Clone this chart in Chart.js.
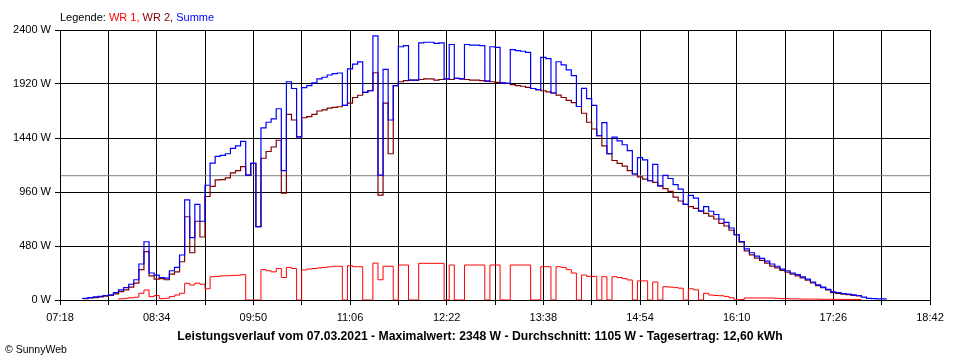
<!DOCTYPE html>
<html>
<head>
<meta charset="utf-8">
<script src="https://cdn.jsdelivr.net/npm/chart.js@4"></script>
<style>
  body { margin: 0; background: #fff; }
  #wrap { position: relative; width: 960px; height: 360px; font-family: "Liberation Sans", Arial, sans-serif; }
  #chart { position: absolute; left: 0; top: 0; }
  .legend { position: absolute; left: 60px; top: 11px; font-size: 11px; color: #000; white-space: nowrap; }
  .title { position: absolute; left: 0; width: 960px; top: 329px; text-align: center; font-size: 12.2px; font-weight: bold; color: #000; white-space: nowrap; }
  .copy { position: absolute; left: 5px; top: 343px; font-size: 10.5px; color: #000; }
</style>
</head>
<body>
<div id="wrap">
  <canvas id="chart" width="960" height="360"></canvas>
  <div class="legend">Legende: <span style="color:#ff0000">WR 1,</span> <span style="color:#800000">WR 2,</span> <span style="color:#0000ff">Summe</span></div>
  <div class="title">Leistungsverlauf vom 07.03.2021 - Maximalwert: 2348 W - Durchschnitt: 1105 W - Tagesertrag: 12,60 kWh</div>
  <div class="copy">&copy; SunnyWeb</div>
</div>
<script>
'use strict';

// sample times (one line per hour)
let times = [
  '07:32', '07:36', '07:40', '07:44', '07:48', '07:52', '07:56',
  '08:00', '08:04', '08:08', '08:12', '08:16', '08:20', '08:24', '08:28', '08:32', '08:36', '08:40', '08:44', '08:48', '08:52', '08:56',
  '09:00', '09:04', '09:08', '09:12', '09:16', '09:20', '09:24', '09:28', '09:32', '09:36', '09:40', '09:44', '09:48', '09:52', '09:56',
  '10:00', '10:04', '10:08', '10:12', '10:16', '10:20', '10:24', '10:28', '10:32', '10:36', '10:40', '10:44', '10:48', '10:52', '10:56',
  '11:00', '11:04', '11:08', '11:12', '11:16', '11:20', '11:24', '11:28', '11:32', '11:36', '11:40', '11:44', '11:48', '11:52', '11:56',
  '12:00', '12:04', '12:08', '12:12', '12:16', '12:20', '12:24', '12:28', '12:32', '12:36', '12:40', '12:44', '12:48', '12:52', '12:56',
  '13:00', '13:04', '13:08', '13:12', '13:16', '13:20', '13:24', '13:28', '13:32', '13:36', '13:40', '13:44', '13:48', '13:52', '13:56',
  '14:00', '14:04', '14:08', '14:12', '14:16', '14:20', '14:24', '14:28', '14:32', '14:36', '14:40', '14:44', '14:48', '14:52', '14:56',
  '15:00', '15:04', '15:08', '15:12', '15:16', '15:20', '15:24', '15:28', '15:32', '15:36', '15:40', '15:44', '15:48', '15:52', '15:56',
  '16:00', '16:04', '16:08', '16:12', '16:16', '16:20', '16:24', '16:28', '16:32', '16:36', '16:40', '16:44', '16:48', '16:52', '16:56',
  '17:00', '17:04', '17:08', '17:12', '17:16', '17:20', '17:24', '17:28', '17:32', '17:36', '17:40', '17:44', '17:48', '17:52', '17:56',
  '18:00', '18:04', '18:08'
];

let wr1 = [
  null, null, null, null, null, null, null,
  null, 5, 10, 15, 20, 25, 60, 89, 30, 40, 12, 15, 30, 44, 60,
  148, 133, 150, 140, 100, 207, 210, 215, 215, 218, 220, 225, 0, 0, 0,
  270, 260, 250, 280, 200, 290, 280, 0, 267, 275, 280, 285, 290, 295, 300,
  300, 0, 305, 296, 296, 0, 0, 328, 180, 300, 300, 0, 311, 311, 0,
  0, 326, 326, 326, 326, 326, 0, 311, 0, 0, 311, 311, 311, 311, 0,
  311, 311, 0, 0, 311, 311, 311, 311, 0, 0, 296, 296, 0, 296, 290,
  270, 240, 0, 222, 210, 210, 0, 207, 0, 207, 200, 190, 178, 0, 170,
  170, 0, 160, 0, 118, 115, 110, 105, 0, 100, 90, 0, 60, 44, 40,
  38, 32, 20, 0, 5, 18, 18, 18, 18, 18, 18, 15, 12, 12, 10,
  10, 8, 8, 8, 8, 6, 6, 6, 6, 5, 5, 5, 5, null, null,
  null, null, null
];

let wr2 = [
  null, 8, 12, 18, 22, 28, 34,
  40, 55, 75, 90, 115, 150, 270, 430, 215, 185, 190, 180, 230, 250, 340,
  740, 420, 700, 560, 920, 1010, 1067, 1070, 1085, 1130, 1150, 1185, 1110, 1215, 652,
  1260, 1320, 1360, 1420, 950, 1650, 1600, 1450, 1620, 1630, 1650, 1680, 1690, 1705, 1712,
  1718, 1730, 1750, 1800, 1820, 1845, 1860, 2020, 933, 1750, 1300, 1905, 1940, 1950, 1955,
  1955, 1960, 1965, 1965, 1955, 1960, 1965, 1960, 1970, 1965, 1960, 1955, 1955, 1950, 1945,
  1940, 1935, 1930, 1925, 1915, 1905, 1900, 1890, 1880, 1870, 1860, 1850, 1840, 1822, 1800,
  1775, 1755, 1720, 1660, 1580, 1520, 1460, 1370, 1300, 1240, 1215, 1190, 1150, 1120, 1095,
  1075, 1060, 1045, 1015, 990, 965, 915, 880, 850, 830, 815, 790, 770, 745, 720,
  682, 658, 620, 580, 515, 437, 402, 372, 352, 327, 302, 285, 263, 248, 230,
  215, 197, 177, 152, 127, 109, 89, 66, 59, 53, 47, 41, 36, null, null,
  null, null, null
];

let summe = [
  null, 10, 15, 22, 28, 32, 40,
  45, 65, 90, 110, 140, 180, 320, 518, 240, 222, 200, 195, 260, 290, 400,
  890, 555, 850, 700, 1020, 1217, 1277, 1285, 1300, 1348, 1370, 1410, 1110, 1215, 652,
  1530, 1580, 1610, 1700, 1150, 1940, 1880, 1450, 1887, 1905, 1930, 1965, 1980, 2000, 2012,
  2018, 1730, 2055, 2096, 2116, 1845, 1860, 2348, 1110, 2050, 1600, 1905, 2251, 2261, 1955,
  1955, 2286, 2291, 2291, 2281, 2286, 1965, 2271, 1970, 1965, 2271, 2266, 2266, 2261, 1945,
  2251, 2246, 1930, 1925, 2226, 2216, 2211, 2201, 1880, 1870, 2156, 2146, 1840, 2118, 2090,
  2045, 1995, 1720, 1882, 1790, 1730, 1460, 1577, 1300, 1447, 1415, 1380, 1328, 1120, 1265,
  1245, 1060, 1205, 1015, 1108, 1080, 1025, 985, 850, 930, 905, 790, 830, 789, 760,
  720, 690, 640, 580, 520, 455, 420, 390, 370, 345, 320, 300, 275, 260, 240,
  225, 205, 185, 160, 135, 115, 95, 72, 65, 58, 52, 46, 40, 25, 15,
  12, 10, 10
];

let average = 1105;
let dayStart = '07:18';
let dayEnd = '18:42';
let yTicks = [0, 480, 960, 1440, 1920, 2400];

const FONT = '"Liberation Sans", Arial, sans-serif';

function toMin(s) {
  let p = s.split(':');
  return Number(p[0]) * 60 + Number(p[1]);
}

let startMin = toMin(dayStart);
let endMin = toMin(dayEnd);

function fmt(v) {
  let m = startMin + v;
  let h = Math.floor(m / 60);
  let mm = m % 60;
  return String(h).padStart(2, '0') + ':' + String(mm).padStart(2, '0');
}

function points(arr) {
  return times.map((t, i) => ({ x: toMin(t) - startMin, y: arr[i] }));
}

let canvasElem = document.getElementById('chart');

function renderChart() {
  const data = {
    datasets: [
      { label: 'Summe', data: points(summe), borderColor: '#0000ff', borderWidth: 1.2, stepped: 'after', order: 0 },
      { label: 'WR 2', data: points(wr2), borderColor: '#800000', borderWidth: 1.2, stepped: 'after', order: 1 },
      { label: 'WR 1', data: points(wr1), borderColor: '#ff0000', borderWidth: 1, stepped: 'after', order: 2 },
      {
        label: 'Durchschnitt',
        data: [{ x: 0, y: average }, { x: endMin - startMin, y: average }],
        borderColor: '#808080', borderWidth: 1, order: 3
      }
    ]
  };

  const grid = { color: '#000', lineWidth: 1, tickLength: 5, tickColor: '#000' };
  const border = { color: '#000', width: 1, z: 1 };

  let config = {
    type: 'line',
    data: data,
    options: {
      responsive: false,
      animation: false,
      spanGaps: false,
      layout: { padding: { top: 30, right: 30, bottom: 30, left: 0 } },
      elements: { point: { radius: 0 }, line: { tension: 0 } },
      plugins: { legend: { display: false }, tooltip: { enabled: false } },
      scales: {
        x: {
          type: 'linear',
          min: 0,
          max: endMin - startMin,
          grid: grid,
          border: border,
          afterFit: (s) => { s.height = 30; },
          ticks: {
            stepSize: 38,
            autoSkip: false,
            maxRotation: 0,
            padding: 6,
            color: '#000',
            font: { family: FONT, size: 11 },
            callback: (v) => (v % 76 === 0 ? fmt(v) : '')
          }
        },
        y: {
          min: yTicks[0],
          max: yTicks[yTicks.length - 1],
          grid: grid,
          border: border,
          afterFit: (s) => { s.width = 60; },
          afterBuildTicks: (s) => { s.ticks = yTicks.map(v => ({ value: v })); },
          ticks: {
            padding: 4,
            color: '#000',
            font: { family: FONT, size: 11 },
            callback: (v) => v + ' W'
          }
        }
      }
    }
  };
  let myChart = new Chart(canvasElem, config);
}

renderChart();
</script>
</body>
</html>
